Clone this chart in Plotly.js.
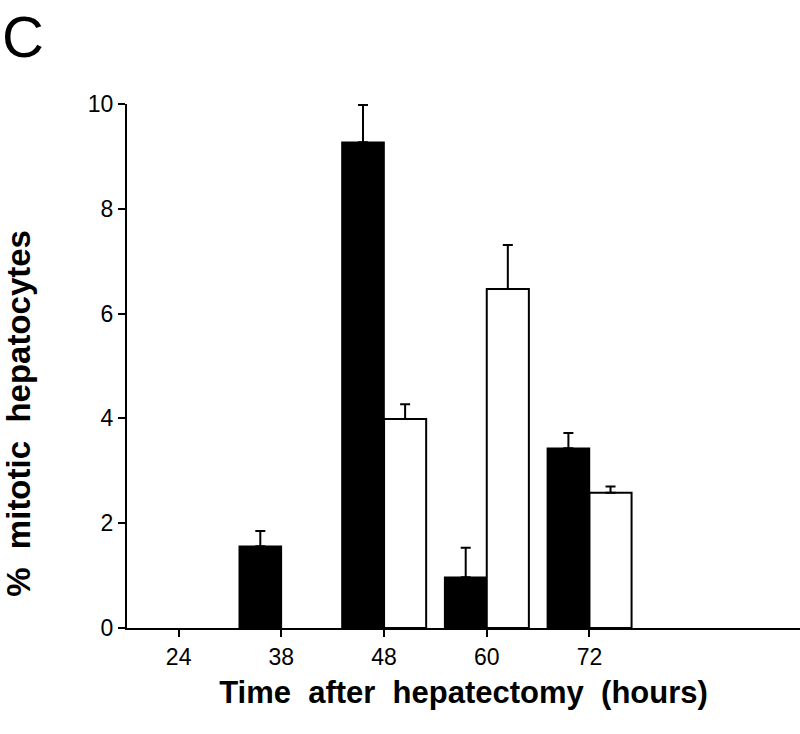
<!DOCTYPE html>
<html>
<head>
<meta charset="utf-8">
<script src="https://cdn.plot.ly/plotly-3.0.1.min.js"></script>
<style>html,body{margin:0;padding:0;background:#fff;}#chart{width:800px;height:734px;}</style>
</head>
<body>
<div id="chart"></div>
<script>
// Data
const categories = ["24", "38", "48", "60", "72"];
const blackValues = [null, 1.56, 9.27, 0.97, 3.43];
const blackErrors = [null, 0.29, 0.71, 0.56, 0.29];
const whiteValues = [null, null, 3.99, 6.47, 2.58];
const whiteErrors = [null, null, 0.28, 0.84, 0.12];
const yTicks = [0, 2, 4, 6, 8, 10];

const fontFam = "Liberation Sans, Arial, Helvetica, sans-serif";

const traceBlack = {
  type: "bar",
  x: categories,
  y: blackValues,
  marker: {color: "#000000", line: {color: "#000000", width: 1.5}},
  error_y: {type: "data", symmetric: false, array: blackErrors, arrayminus: blackValues.map(() => 0), color: "#000000", thickness: 2, width: 5},
  hoverinfo: "x+y"
};
const traceWhite = {
  type: "bar",
  x: categories,
  y: whiteValues,
  marker: {color: "#ffffff", line: {color: "#000000", width: 2}},
  error_y: {type: "data", symmetric: false, array: whiteErrors, arrayminus: whiteValues.map(() => 0), color: "#000000", thickness: 2, width: 5},
  hoverinfo: "x+y"
};

const layout = {
  width: 800,
  height: 734,
  margin: {l: 127, r: 0, t: 104, b: 106},
  paper_bgcolor: "#ffffff",
  plot_bgcolor: "#ffffff",
  showlegend: false,
  barmode: "group",
  bargap: 0.18,
  bargroupgap: 0,
  font: {family: fontFam, color: "#000000"},
  xaxis: {
    type: "category",
    range: [-0.503, 6.05],
    showline: true,
    linecolor: "#000000",
    linewidth: 2,
    ticks: "outside",
    ticklen: 7,
    tickwidth: 2,
    tickcolor: "#000000",
    showgrid: false,
    zeroline: false,
    tickfont: {family: fontFam, size: 23, color: "#000000"},
    title: {text: "Time  after  hepatectomy  (hours)", font: {family: fontFam, size: 31, color: "#000000", weight: "bold"}, standoff: 13}
  },
  yaxis: {
    range: [0, 10],
    tickvals: yTicks,
    ticktext: yTicks.map(String),
    showline: true,
    linecolor: "#000000",
    linewidth: 2,
    ticks: "outside",
    ticklen: 7,
    tickwidth: 2,
    tickcolor: "#000000",
    showgrid: false,
    zeroline: false,
    tickfont: {family: fontFam, size: 23, color: "#000000"}
  },
  annotations: [{
    text: "C",
    xref: "paper", yref: "paper",
    x: -0.188, y: 1.128,
    xanchor: "left", yanchor: "middle",
    showarrow: false,
    font: {family: fontFam, size: 58, color: "#000000"}
  }, {
    text: "%  mitotic  hepatocytes",
    xref: "paper", yref: "paper",
    x: -0.161, y: 0.41,
    xanchor: "center", yanchor: "middle",
    textangle: -90,
    showarrow: false,
    font: {family: fontFam, size: 33, color: "#000000", weight: "bold"}
  }]
};

Plotly.newPlot("chart", [traceBlack, traceWhite], layout, {displayModeBar: false, staticPlot: true});
</script>
</body>
</html>
